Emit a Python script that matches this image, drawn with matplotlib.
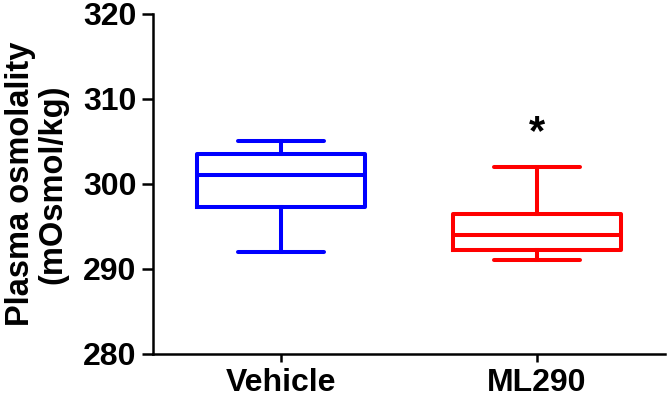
import matplotlib
matplotlib.use("Agg")
import matplotlib.pyplot as plt

plt.rcParams['font.family'] = ['Liberation Sans', 'DejaVu Sans']
plt.rcParams['font.weight'] = 'bold'

categories = ["Vehicle", "ML290"]
whislo = [292.0, 291.0]
q1 = [297.3, 292.2]
med = [301.0, 294.0]
q3 = [303.5, 296.4]
whishi = [305.0, 302.0]
colors = ["#0000ff", "#ff0000"]
sig_labels = ["", "*"]
sig_y = [None, 306.0]
yticks = [280, 290, 300, 310, 320]

fig = plt.figure(figsize=(6.67, 3.98), dpi=100)
ax = fig.add_axes([0.2294, 0.1106, 0.997 - 0.2294, 0.966 - 0.1106])

positions = list(range(1, len(categories) + 1))
for i, pos in enumerate(positions):
    stats = [dict(med=med[i], q1=q1[i], q3=q3[i], whislo=whislo[i], whishi=whishi[i],
                  fliers=[], label=categories[i])]
    lw = 2.9
    c = colors[i]
    ax.bxp(stats, positions=[pos], widths=0.66, capwidths=0.335, showfliers=False,
           boxprops=dict(color=c, linewidth=lw, solid_joinstyle='round'),
           medianprops=dict(color=c, linewidth=lw, solid_capstyle='butt'),
           whiskerprops=dict(color=c, linewidth=lw),
           capprops=dict(color=c, linewidth=lw, solid_capstyle='round'),
           manage_ticks=False)
    if sig_labels[i]:
        ax.text(pos, sig_y[i], sig_labels[i], ha='center', va='center',
                fontsize=30, fontweight='bold', color='black')

ax.set_xlim(0.5, 2.5)
ax.set_ylim(280, 320)
ax.set_yticks(yticks)
ax.set_xticks(positions)
ax.set_xticklabels(categories)
ax.spines['top'].set_visible(False)
ax.spines['right'].set_visible(False)
ax.spines['left'].set_linewidth(1.8)
ax.spines['bottom'].set_linewidth(1.8)
ax.tick_params(axis='y', length=8, width=1.8, labelsize=23, pad=4)
ax.tick_params(axis='x', length=6, width=1.8, labelsize=23, pad=4)
for lbl in ax.get_xticklabels() + ax.get_yticklabels():
    lbl.set_fontweight('bold')
ax.set_ylabel("Plasma osmolality\n(mOsmol/kg)", fontsize=23.5, fontweight='bold',
              linespacing=1.05, va='center', ha='center')
ax.yaxis.set_label_coords(-0.228, 0.5)

fig.savefig("out.png", dpi=100)
